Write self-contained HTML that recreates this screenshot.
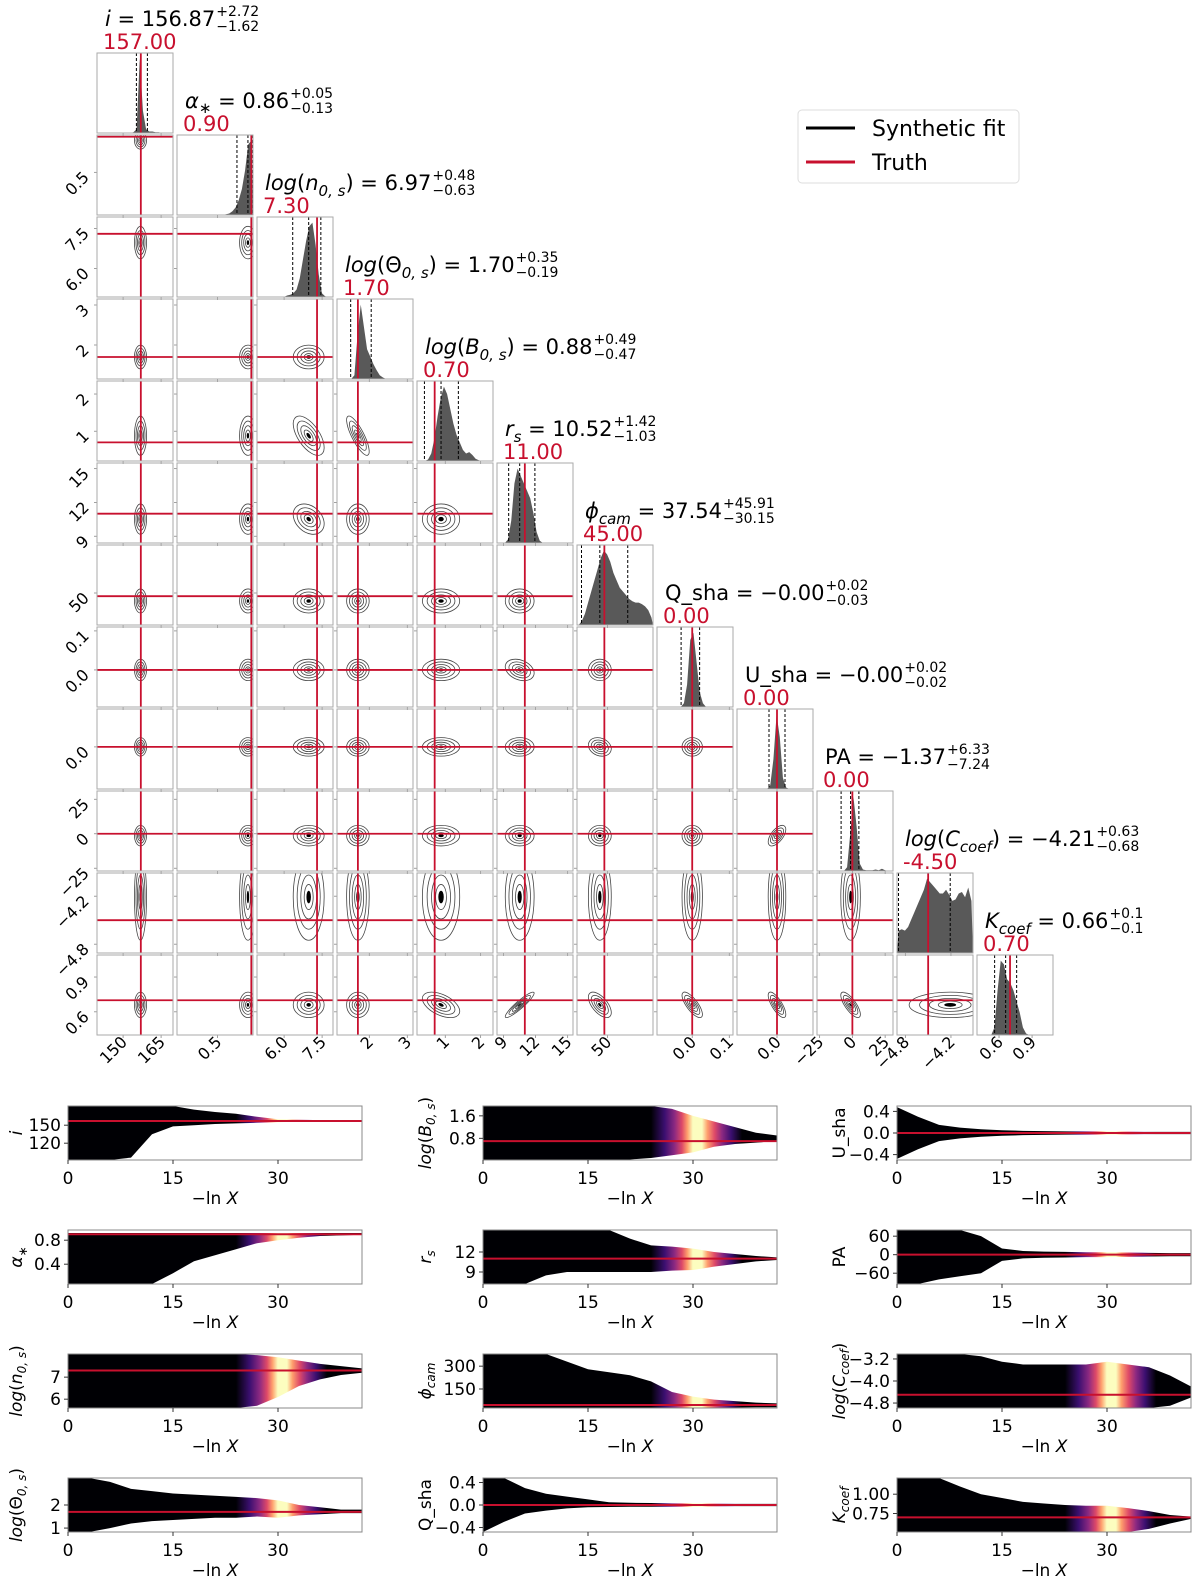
<!DOCTYPE html>
<html><head><meta charset="utf-8"><style>
html,body{margin:0;padding:0;background:#fff}
svg{display:block;font-family:"DejaVu Sans","Liberation Sans",sans-serif}
</style></head><body>
<svg id="fig" width="1200" height="1590" viewBox="0 0 1200 1590" xmlns="http://www.w3.org/2000/svg">
<defs>
<clipPath id="dummy"><rect x="0" y="0" width="1" height="1"/></clipPath>
</defs>
<g id="legend">
<rect x="798" y="110" width="221" height="73" rx="4" fill="#fff" stroke="#ddd" stroke-width="1"/>
<line x1="806" y1="128" x2="855" y2="128" stroke="#000" stroke-width="3"/>
<text x="872" y="136" font-size="22">Synthetic fit</text>
<line x1="806" y1="162" x2="855" y2="162" stroke="#c8102e" stroke-width="3"/>
<text x="872" y="170" font-size="22">Truth</text>
</g>
</svg>
<script>
// ---------------- DATA ----------------
const medianText=['156.87','0.86','6.97','1.70','0.88','10.52','37.54','\u22120.00','\u22120.00','\u22121.37','\u22124.21','0.66'];
const plusText=['+2.72','+0.05','+0.48','+0.35','+0.49','+1.42','+45.91','+0.02','+0.02','+6.33','+0.63','+0.1'];
const minusText=['\u22121.62','\u22120.13','\u22120.63','\u22120.19','\u22120.47','\u22121.03','\u221230.15','\u22120.03','\u22120.02','\u22127.24','\u22120.68','\u22120.1'];
const truthText=['157.00','0.90','7.30','1.70','0.70','11.00','45.00','0.00','0.00','0.00','-4.50','0.70'];
const medians=[156.87,0.86,6.97,1.70,0.88,10.52,37.54,0,0,-1.37,-4.21,0.66];
const plusErr=[2.72,0.05,0.48,0.35,0.49,1.42,45.91,0.02,0.02,6.33,0.63,0.1];
const minusErr=[1.62,0.13,0.63,0.19,0.47,1.03,30.15,0.03,0.02,7.24,0.68,0.1];
const truths=[157,0.9,7.3,1.7,0.7,11,45,0,0,0,-4.5,0.7];
const rangeLo=[139.7,0.02,4.93,1.15,0.2,8.4,0,-0.095,-0.1,-27,-4.91,0.4];
const rangeHi=[169.7,0.92,7.93,3.15,2.35,15.5,125,0.11,0.09,31,-3.91,1.09];
const tickVals=[[150,165],[0.5],[6.0,7.5],[2,3],[1,2],[9,12,15],[50],[0.0,0.1],[0.0],[-25,0,25],[-4.8,-4.2],[0.6,0.9]];
const tickText=[['150','165'],['0.5'],['6.0','7.5'],['2','3'],['1','2'],['9','12','15'],['50'],['0.0','0.1'],['0.0'],['\u221225','0','25'],['\u22124.8','\u22124.2'],['0.6','0.9']];
const hist0=[0,0,0,0,0,0,0,0,0,0,0,0.01,0.05,1,0.3,0.05,0.02,0.02,0.01,0.01,0,0,0,0];
const hist1=[0,0,0,0,0,0,0,0,0,0,0,0,0,0,0,0.01,0.02,0.05,0.1,0.2,0.35,0.6,0.95,1];
const hist2=[0,0,0,0,0,0,0,0,0,0.02,0.03,0.05,0.1,0.25,0.5,0.75,0.95,1,0.7,0.3,0.05,0.01,0,0];
const hist3=[0,0,0,0,0,0.05,0.6,1,0.7,0.4,0.3,0.2,0.12,0.05,0.02,0,0,0,0,0,0,0,0,0];
const hist4=[0,0,0,0.02,0.1,0.3,0.6,0.85,1,0.9,0.7,0.5,0.35,0.25,0.15,0.1,0.12,0.08,0.03,0.01,0,0,0,0];
const hist5=[0,0,0,0.05,0.3,0.8,1,0.9,0.8,0.7,0.6,0.4,0.15,0.03,0,0,0,0,0,0,0,0,0,0];
const hist6=[0,0.05,0.15,0.3,0.45,0.6,0.75,0.9,1,0.95,0.85,0.7,0.6,0.5,0.45,0.4,0.35,0.32,0.3,0.3,0.28,0.25,0.2,0.1];
const hist7=[0,0,0,0,0,0,0,0,0.05,0.3,0.9,1,0.6,0.2,0.05,0,0,0,0,0,0,0,0,0];
const hist8=[0,0,0,0,0,0,0,0,0,0,0.05,0.4,1,0.7,0.15,0.02,0,0,0,0,0,0,0,0];
const hist9=[0,0,0,0,0,0,0,0,0,0.05,0.5,1,0.6,0.1,0.02,0.01,0.01,0.01,0.02,0.01,0.03,0.01,0,0];
const hist10=[0.3,0.32,0.3,0.35,0.45,0.55,0.65,0.75,0.85,1,0.95,0.9,0.85,0.8,0.8,0.85,0.78,0.7,0.72,0.8,0.82,0.75,0.88,0.7];
const hist11=[0,0,0,0,0,0.1,0.6,1,0.95,0.75,0.7,0.6,0.45,0.3,0.1,0.02,0,0,0,0,0,0,0,0];
const hists=[hist0,hist1,hist2,hist3,hist4,hist5,hist6,hist7,hist8,hist9,hist10,hist11];
// correlation for notable pairs [row, col, rho]
const corrPairs=[[4,3,-0.8],[4,2,-0.6],[11,5,0.92],[11,6,-0.6],[11,4,-0.5],[11,7,-0.75],[11,8,-0.75],[11,9,-0.75],[5,2,-0.3],[9,8,0.6],[8,6,-0.2],[7,5,-0.3]];
// relative contour size per parameter
const contourScale=[1,1,1,1,1,1,0.45,1,1,1,0.75,1];

// trace data (x = -ln X at 0,3,...,42)
const traceX=[0,3,6,9,12,15,18,21,24,27,30,33,36,39,42];
const traceLo=[92,0.07,5.6,0.83,0.03,7.2,25,-0.48,-0.5,-95,-4.98,0.51];
const traceHi=[182,0.97,8.05,3.17,1.95,15.3,380,0.48,0.5,80,-3.02,1.21];
const traceTicks=[[120,150],[0.4,0.8],[6,7],[1,2],[0.8,1.6],[9,12],[150,300],[-0.4,0,0.4],[-0.4,0,0.4],[-60,0,60],[-4.8,-4.0,-3.2],[0.75,1.00]];
const traceTickText=[['120','150'],['0.4','0.8'],['6','7'],['1','2'],['0.8','1.6'],['9','12'],['150','300'],['\u22120.4','0.0','0.4'],['\u22120.4','0.0','0.4'],['\u221260','0','60'],['\u22124.8','\u22124.0','\u22123.2'],['0.75','1.00']];
const up0=[182,182,182,182,182,182,176,172,169,164,160,159,158.5,158,158];
const dn0=[92,92,92,96,135,148,150,152,153,154,155,156,156.5,157,157];
const up1=[0.92,0.92,0.92,0.92,0.92,0.92,0.92,0.92,0.92,0.92,0.92,0.92,0.92,0.92,0.92];
const dn1=[0.07,0.07,0.07,0.07,0.07,0.25,0.45,0.55,0.65,0.75,0.8,0.84,0.87,0.88,0.89];
const up2=[8.05,8.05,8.05,8.05,8.05,8.05,8.05,8.05,8.05,8.0,7.9,7.75,7.6,7.5,7.4];
const dn2=[5.6,5.6,5.6,5.6,5.6,5.6,5.6,5.6,5.6,5.7,6.1,6.6,6.9,7.1,7.2];
const up3=[3.17,3.17,3.0,2.7,2.6,2.5,2.45,2.4,2.35,2.3,2.2,2.0,1.9,1.8,1.8];
const dn3=[0.83,0.83,1.0,1.2,1.3,1.35,1.4,1.45,1.45,1.5,1.45,1.55,1.6,1.65,1.65];
const up4=[1.95,1.95,1.95,1.95,1.95,1.95,1.95,1.95,1.95,1.85,1.6,1.4,1.2,1.0,0.9];
const dn4=[0.03,0.03,0.03,0.03,0.03,0.03,0.03,0.05,0.1,0.2,0.3,0.5,0.6,0.65,0.7];
const up5=[15.3,15.3,15.3,15.3,15.3,15.3,15.3,14,13,12.8,12.5,12,11.7,11.4,11.2];
const dn5=[7.2,7.2,7.2,8.5,9,9,9,9,9,9.2,9.3,9.8,10.2,10.6,10.8];
const up6=[380,380,380,380,330,280,260,240,200,130,100,80,70,60,55];
const dn6=[25,25,25,25,25,25,25,25,25,25,25,25,28,30,30];
const up7=[0.48,0.48,0.3,0.2,0.15,0.1,0.05,0.04,0.035,0.03,0.03,0.025,0.02,0.02,0.02];
const dn7=[-0.48,-0.3,-0.15,-0.1,-0.06,-0.04,-0.035,-0.03,-0.03,-0.03,-0.03,-0.025,-0.02,-0.02,-0.02];
const up8=[0.48,0.3,0.15,0.1,0.07,0.05,0.04,0.035,0.03,0.03,0.03,0.025,0.02,0.02,0.02];
const dn8=[-0.48,-0.3,-0.15,-0.1,-0.07,-0.05,-0.04,-0.035,-0.03,-0.03,-0.03,-0.025,-0.02,-0.02,-0.02];
const up9=[80,80,80,80,60,20,12,10,9,8,8,7,6,5,5];
const dn9=[-95,-95,-80,-70,-60,-20,-12,-10,-9,-8,-8,-7,-6,-5,-5];
const up10=[-3.02,-3.02,-3.02,-3.02,-3.1,-3.3,-3.4,-3.4,-3.4,-3.4,-3.3,-3.4,-3.5,-3.8,-4.2];
const dn10=[-4.98,-4.98,-4.98,-4.98,-4.98,-4.98,-4.98,-4.98,-4.98,-4.98,-4.98,-4.98,-4.98,-4.9,-4.6];
const up11=[1.21,1.21,1.21,1.1,1.0,0.95,0.9,0.88,0.86,0.85,0.85,0.82,0.78,0.73,0.71];
const dn11=[0.51,0.51,0.51,0.51,0.51,0.51,0.51,0.51,0.51,0.51,0.51,0.51,0.55,0.62,0.68];
const traceUp=[up0,up1,up2,up3,up4,up5,up6,up7,up8,up9,up10,up11];
const traceDn=[dn0,dn1,dn2,dn3,dn4,dn5,dn6,dn7,dn8,dn9,dn10,dn11];
const xTickVals=[0,15,30];

// ---------------- DRAWING ----------------
const NS='http://www.w3.org/2000/svg';
const svg=document.getElementById('fig');
const defs=svg.querySelector('defs');
const RED='#c8102e';
function el(tag,attrs,parent){const e=document.createElementNS(NS,tag);for(const k in attrs)e.setAttribute(k,attrs[k]);(parent||svg).appendChild(e);return e;}
const SUBS=(t)=>'<tspan font-size="15" dy="6" font-style="italic">'+t+'</tspan><tspan dy="-6">\u200b</tspan>';
const nameSVG=[
 '<tspan font-style="italic">i</tspan>',
 '<tspan font-style="italic">\u03b1</tspan><tspan font-size="15" dy="5">\u2217</tspan><tspan dy="-5">\u200b</tspan>',
 '<tspan font-style="italic">log</tspan>(<tspan font-style="italic">n</tspan>'+SUBS('0, s')+')',
 '<tspan font-style="italic">log</tspan>(\u0398'+SUBS('0, s')+')',
 '<tspan font-style="italic">log</tspan>(<tspan font-style="italic">B</tspan>'+SUBS('0, s')+')',
 '<tspan font-style="italic">r</tspan>'+SUBS('s'),
 '<tspan font-style="italic">\u03d5</tspan>'+SUBS('cam'),
 'Q_sha','U_sha','PA',
 '<tspan font-style="italic">log</tspan>(<tspan font-style="italic">C</tspan>'+SUBS('coef')+')',
 '<tspan font-style="italic">K</tspan>'+SUBS('coef')
];
const N=12, W=76, H=80;
const colX=c=>97+80*c, rowY=r=>53+82*r;
const sx=(j,c,v)=>colX(c)+(v-rangeLo[j])/(rangeHi[j]-rangeLo[j])*W;
const sy=(j,r,v)=>rowY(r)+H-(v-rangeLo[j])/(rangeHi[j]-rangeLo[j])*H;
function rhoOf(r,c){for(const p of corrPairs){if(p[0]===r&&p[1]===c)return p[2];}return 0;}

for(let r=0;r<N;r++){
 for(let c=0;c<=r;c++){
  const g=el('g',{});
  
  
  const x0=colX(c),y0=rowY(r);
  const cid='clip'+r+'_'+c;
  const cp=el('clipPath',{id:cid},defs);el('rect',{x:x0,y:y0,width:W,height:H},cp);
  const inner=el('g',{'clip-path':'url(#'+cid+')'},g);
  if(r===c){
   const h=hists[r],nb=h.length;const bw=W/nb;
   let d='M'+x0+','+(y0+H);
   for(let b=0;b<nb;b++){const yy=y0+H-h[b]*H*0.93;d+=' L'+(x0+(b+0.5)*bw)+','+yy;}
   d+=' L'+(x0+W)+','+(y0+H)+' Z';
   const hp=el('path',{d:d,fill:'#595959',stroke:'none'},inner);
   
   
   [medians[r]-minusErr[r],medians[r],medians[r]+plusErr[r]].forEach(v=>{
     const xx=sx(r,c,v);
     const q=el('line',{x1:xx,x2:xx,y1:y0,y2:y0+H,stroke:'#000','stroke-width':1,'stroke-dasharray':'3,2'},inner);
     
     
   });
   const tx=sx(r,c,truths[r]);
   const tl=el('line',{x1:tx,x2:tx,y1:y0,y2:y0+H,stroke:RED,'stroke-width':1.8},inner);
   
   
   const t=el('text',{x:x0+8,y:y0-27,'font-size':21},g);
   t.innerHTML=nameSVG[r]+' = '+medianText[r];
   
   
   const bb=t.getBBox();
   const ex=bb.x+bb.width+1;
   const sp=el('text',{x:ex,y:y0-37,'font-size':14},g);sp.textContent=plusText[r];
   
   
   const sb=el('text',{x:ex,y:y0-22,'font-size':14},g);sb.textContent=minusText[r];
   
   
   const tv=el('text',{x:x0+6,y:y0-4,'font-size':21,fill:RED},g);tv.textContent=truthText[r];
   
   
  } else {
   const cx=sx(c,c,medians[c]),cy=sy(r,r,medians[r]);
   const sxp=contourScale[c]*(plusErr[c]+minusErr[c])/2/(rangeHi[c]-rangeLo[c])*W;
   const syp=contourScale[r]*(plusErr[r]+minusErr[r])/2/(rangeHi[r]-rangeLo[r])*H;
   const rho=rhoOf(r,c);
   const a=sxp*sxp,bq=syp*syp,cxy=-rho*sxp*syp;
   const tr=(a+bq)/2,det=Math.sqrt(((a-bq)/2)**2+cxy*cxy);
   const l1=tr+det,l2=Math.max(tr-det,0.02);
   const ang=Math.atan2(l1-a,cxy||1e-9)*180/Math.PI;
   const angle=(Math.abs(cxy)<1e-9)?(a>=bq?0:90):ang;
   [1.1,0.82,0.56,0.32].forEach((s,i)=>{
     const e=el('ellipse',{cx:cx,cy:cy,rx:Math.sqrt(l1)*s,ry:Math.sqrt(l2)*s,transform:'rotate('+angle+' '+cx+' '+cy+')',fill:'none',stroke:'#444','stroke-width':0.8},inner);
     
     
   });
   const core=el('ellipse',{cx:cx,cy:cy,rx:Math.sqrt(l1)*0.16,ry:Math.sqrt(l2)*0.16,transform:'rotate('+angle+' '+cx+' '+cy+')',fill:'#000'},inner);
   
   
   const tx=sx(c,c,truths[c]),ty=sy(r,r,truths[r]);
   const v=el('line',{x1:tx,x2:tx,y1:y0,y2:y0+H,stroke:RED,'stroke-width':1.8},inner);
   
   
   const hz=el('line',{x1:x0,x2:x0+W,y1:ty,y2:ty,stroke:RED,'stroke-width':1.8},inner);
   
   
   tickVals[r].forEach(v2=>{const yy=sy(r,r,v2);if(yy>=y0&&yy<=y0+H)el('line',{x1:x0-3,x2:x0,y1:yy,y2:yy,stroke:'#888','stroke-width':0.8},g);});
  }
  tickVals[c].forEach(v2=>{const xx=sx(c,c,v2);if(xx>=x0&&xx<=x0+W)el('line',{x1:xx,x2:xx,y1:y0+H,y2:y0+H+3,stroke:'#888','stroke-width':0.8},g);});
  const br=el('rect',{x:x0,y:y0,width:W,height:H,fill:'none',stroke:'#aaa','stroke-width':1},g);
  
  
 }
}
for(let r=1;r<N;r++){
 tickVals[r].forEach((v,i)=>{const yy=sy(r,r,v);
  const t=el('text',{x:0,y:0,'font-size':16,'text-anchor':'end',transform:'translate(90,'+(yy+6)+') rotate(-45)'});
  t.textContent=tickText[r][i];
  
  });
}
for(let c=0;c<N;c++){
 tickVals[c].forEach((v,i)=>{const xx=sx(c,c,v);
  const t=el('text',{x:0,y:0,'font-size':16,'text-anchor':'end',transform:'translate('+(xx+5)+','+(rowY(11)+H+8)+') rotate(-45)'});
  t.textContent=tickText[c][i];
  
  });
}

// ---------------- TRACE PLOTS ----------------
const tColX=[68,483,897], tRowY=[1106,1230,1354,1478], TW=294, TH=54, PXU=7;
for(let k=0;k<3;k++){
 const gl=tColX[k];
 const lg=el('linearGradient',{id:'inf'+k,gradientUnits:'userSpaceOnUse',x1:gl+24*PXU,y1:0,x2:gl+37*PXU,y2:0},defs);
 [[0,'#000004'],[0.15,'#3b0f70'],[0.26,'#8c2981'],[0.34,'#de4968'],[0.4,'#fe9f6d'],[0.46,'#fcfdbf'],[0.56,'#fcfdbf'],[0.62,'#fe9f6d'],[0.7,'#de4968'],[0.78,'#8c2981'],[0.88,'#3b0f70'],[1,'#000004']].forEach(s=>el('stop',{offset:s[0],'stop-color':s[1]},lg));
}
for(let j=0;j<N;j++){
 const k=Math.floor(j/4), r=j%4;
 const x0=tColX[k], y0=tRowY[r];
 const g=el('g',{});
 
 
 const cid='tclip'+j;const cp=el('clipPath',{id:cid},defs);el('rect',{x:x0,y:y0,width:TW,height:TH},cp);
 const inner=el('g',{'clip-path':'url(#'+cid+')'},g);
 const X=v=>x0+v*PXU, Y=v=>y0+TH-(v-traceLo[j])/(traceHi[j]-traceLo[j])*TH;
 let d='';
 traceX.forEach((xv,i)=>{d+=(i?' L':'M')+X(xv)+','+Y(traceUp[j][i]);});
 for(let i=traceX.length-1;i>=0;i--)d+=' L'+X(traceX[i])+','+Y(traceDn[j][i]);
 d+=' Z';
 const p=el('path',{d:d,fill:'url(#inf'+k+')'},inner);
 
 
 const ty=Y(truths[j]);
 const tl=el('line',{x1:x0,x2:x0+TW,y1:ty,y2:ty,stroke:RED,'stroke-width':2},inner);
 
 
 el('rect',{x:x0,y:y0,width:TW,height:TH,fill:'none',stroke:'#888','stroke-width':1},g);
 traceTicks[j].forEach((v,i)=>{const yy=Y(v);
  el('line',{x1:x0-4,x2:x0,y1:yy,y2:yy,stroke:'#333','stroke-width':1},g);
  const t=el('text',{x:x0-7,y:yy+6,'font-size':17,'text-anchor':'end'},g);t.textContent=traceTickText[j][i];
  
  });
 xTickVals.forEach(v=>{const xx=X(v);
  el('line',{x1:xx,x2:xx,y1:y0+TH,y2:y0+TH+4,stroke:'#333','stroke-width':1},g);
  const t=el('text',{x:xx,y:y0+TH+24,'font-size':17,'text-anchor':'middle'},g);t.textContent=String(v);
  
  });
 const xl=el('text',{x:x0+147,y:y0+TH+44,'font-size':17,'text-anchor':'middle'},g);
 xl.innerHTML='\u2212ln <tspan font-style="italic">X</tspan>';
 
 
 const lblX=(k===0)?x0-46:x0-52;
 const yl=el('text',{x:0,y:0,'font-size':17,'text-anchor':'middle',transform:'translate('+lblX+','+(y0+TH/2)+') rotate(-90)'},g);
 yl.innerHTML=nameSVG[j].replace(/font-size="15"/g,'font-size="12"').replace(/dy="6"/g,'dy="4"').replace(/dy="-6"/g,'dy="-4"');
 
 
}
</script>
</body></html>
